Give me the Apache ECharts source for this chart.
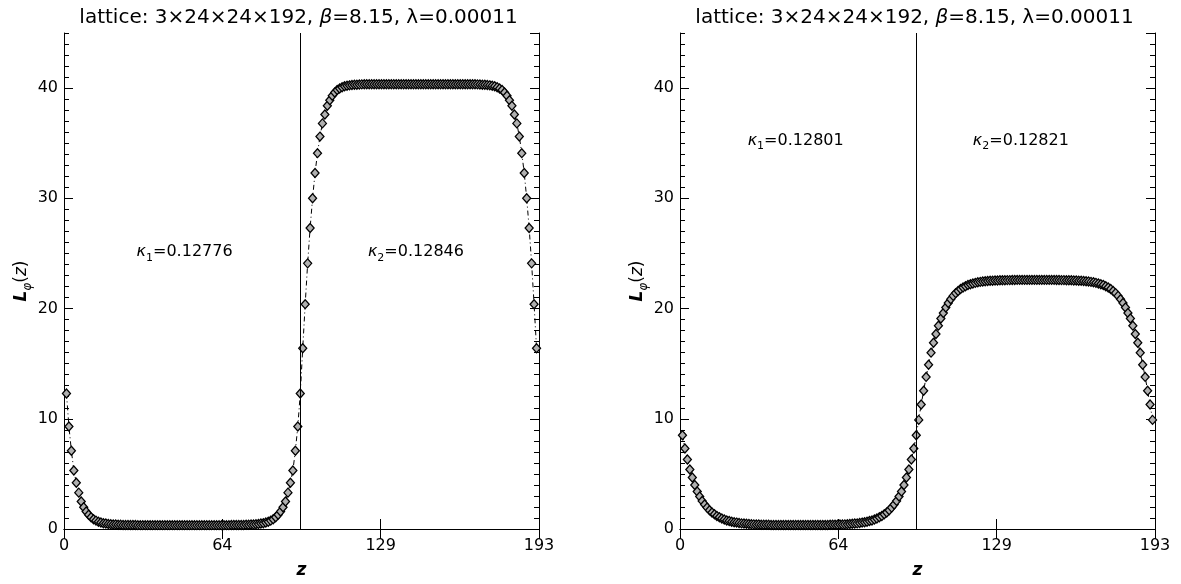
<!DOCTYPE html>
<html>
<head>
<meta charset="utf-8">
<script src="https://cdn.jsdelivr.net/npm/echarts@6/dist/echarts.min.js"></script>
<style>
  html, body { margin: 0; padding: 0; background: #fff; }
  #myChart { width: 1181px; height: 584px; }
</style>
</head>
<body>
<div id="myChart"></div>
<script type="text/javascript">

  // L_phi(z), one value per site z = 1..192
  // left panel, kappa1 half (z = 1..96)
  var leftK1 = [
    12.3, 9.3, 7.1, 5.3, 4.2, 3.3, 2.5, 1.98, 1.59, 1.29,
    1.07, 0.89, 0.76, 0.66, 0.59, 0.53, 0.49, 0.45, 0.43, 0.41,
    0.40, 0.39, 0.38, 0.37, 0.37, 0.36, 0.36, 0.36, 0.36, 0.35,
    0.35, 0.35, 0.35, 0.35, 0.35, 0.35, 0.35, 0.35, 0.35, 0.35,
    0.35, 0.35, 0.35, 0.35, 0.35, 0.35, 0.35, 0.35,
    0.35, 0.35, 0.35, 0.35, 0.35, 0.35, 0.35, 0.35,
    0.35, 0.35, 0.35, 0.35, 0.35, 0.35, 0.35, 0.35, 0.35, 0.35,
    0.35, 0.36, 0.36, 0.36, 0.36, 0.37, 0.37, 0.38, 0.39, 0.40,
    0.41, 0.43, 0.45, 0.49, 0.53, 0.59, 0.66, 0.76, 0.89, 1.07,
    1.29, 1.59, 1.98, 2.5, 3.3, 4.2, 5.3, 7.1, 9.3, 12.3
  ];
  // left panel, kappa2 half (z = 97..192)
  var leftK2 = [
    16.4, 20.4, 24.1, 27.3, 30.0, 32.3, 34.1, 35.6, 36.8, 37.6,
    38.4, 38.9, 39.3, 39.6, 39.82, 39.97, 40.08, 40.16, 40.21, 40.25,
    40.28, 40.30, 40.31, 40.33, 40.34, 40.35, 40.35, 40.35, 40.35, 40.35,
    40.35, 40.35, 40.35, 40.35, 40.35, 40.35, 40.35, 40.35, 40.35, 40.35,
    40.35, 40.35, 40.35, 40.35, 40.35, 40.35, 40.35, 40.35,
    40.35, 40.35, 40.35, 40.35, 40.35, 40.35, 40.35, 40.35,
    40.35, 40.35, 40.35, 40.35, 40.35, 40.35, 40.35, 40.35, 40.35, 40.35,
    40.35, 40.35, 40.35, 40.35, 40.35, 40.34, 40.33, 40.31, 40.30, 40.28,
    40.25, 40.21, 40.16, 40.08, 39.97, 39.82, 39.6, 39.3, 38.9, 38.4,
    37.6, 36.8, 35.6, 34.1, 32.3, 30.0, 27.3, 24.1, 20.4, 16.4
  ];
  // right panel, kappa1 half
  var rightK1 = [
    8.5, 7.3, 6.3, 5.4, 4.67, 4.0, 3.4, 2.95, 2.55, 2.22,
    1.94, 1.70, 1.50, 1.33, 1.18, 1.06, 0.95, 0.86, 0.78, 0.72,
    0.66, 0.62, 0.58, 0.54, 0.51, 0.49, 0.47, 0.45, 0.44, 0.42,
    0.41, 0.40, 0.39, 0.39, 0.38, 0.38, 0.37, 0.37, 0.37, 0.36,
    0.36, 0.36, 0.36, 0.36, 0.36, 0.36, 0.36, 0.36,
    0.36, 0.36, 0.36, 0.36, 0.36, 0.36, 0.36, 0.36,
    0.36, 0.37, 0.37, 0.37, 0.38, 0.38, 0.39, 0.39, 0.40, 0.41,
    0.42, 0.44, 0.45, 0.47, 0.49, 0.51, 0.54, 0.58, 0.62, 0.66,
    0.72, 0.78, 0.86, 0.95, 1.06, 1.18, 1.33, 1.50, 1.70, 1.94,
    2.22, 2.55, 2.95, 3.4, 4.0, 4.67, 5.4, 6.3, 7.3, 8.5
  ];
  // right panel, kappa2 half
  var rightK2 = [
    9.9, 11.3, 12.55, 13.8, 14.9, 16.0, 16.9, 17.7, 18.45, 19.1,
    19.6, 20.1, 20.5, 20.85, 21.15, 21.4, 21.6, 21.77, 21.91, 22.03,
    22.13, 22.21, 22.28, 22.33, 22.38, 22.42, 22.45, 22.48, 22.5, 22.52,
    22.53, 22.54, 22.55, 22.56, 22.57, 22.57, 22.58, 22.58, 22.59, 22.59,
    22.6, 22.6, 22.6, 22.6, 22.6, 22.6, 22.6, 22.6,
    22.6, 22.6, 22.6, 22.6, 22.6, 22.6, 22.6, 22.6,
    22.59, 22.59, 22.58, 22.58, 22.57, 22.57, 22.56, 22.55, 22.54, 22.53,
    22.52, 22.5, 22.48, 22.45, 22.42, 22.38, 22.33, 22.28, 22.21, 22.13,
    22.03, 21.91, 21.77, 21.6, 21.4, 21.15, 20.85, 20.5, 20.1, 19.6,
    19.1, 18.45, 17.7, 16.9, 16.0, 14.9, 13.8, 12.55, 11.3, 9.9
  ];

  var kappaLeft = ['0.12776', '0.12846'];
  var kappaRight = ['0.12801', '0.12821'];
  // where the kappa labels sit, in data units [z, L]
  var kappaPosLeft = [[49, 25.1], [143, 25.1]];
  var kappaPosRight = [[47, 35.2], [138.5, 35.2]];
  var zStart = 1;        // first lattice site
  var zWall = 96;        // kappa1 / kappa2 boundary
  var zMax = 193;
  var yMax = 45;

  var fontFam = 'DejaVu Sans';
  var chartDom = document.getElementById('myChart');
  var myChart = echarts.init(chartDom);

  var grids = [
    { left: 64, top: 33, width: 475, height: 508 },
    { left: 680, top: 33, width: 475, height: 508 }
  ];

  var panels = [
    { k1: leftK1, k2: leftK2, kappa: kappaLeft, pos: kappaPosLeft },
    { k1: rightK1, k2: rightK2, kappa: kappaRight, pos: kappaPosRight }
  ];

  var axisLine = { show: true, lineStyle: { color: '#000', width: 1 } };
  var subRich = {
    i: { fontFamily: fontFam, fontSize: 17, fontStyle: 'italic', fontWeight: 'bold', color: '#000', lineHeight: 24 },
    n: { fontFamily: fontFam, fontSize: 17, color: '#000', lineHeight: 24 },
    z: { fontFamily: fontFam, fontSize: 17, fontStyle: 'italic', color: '#000', lineHeight: 24 },
    si: { fontFamily: fontFam, fontSize: 12, fontStyle: 'italic', color: '#000', lineHeight: 12, verticalAlign: 'bottom' }
  };

  function pairs(a, b) {
    var out = [];
    a.concat(b).forEach(function (v, i) {
      out.push([zStart + i, v]);
    });
    return out;
  }

  var xAxes = [], yAxes = [], series = [], titles = [];

  panels.forEach(function (p, g) {
    var gr = grids[g];
    titles.push({
      text: '{n|lattice: 3×24×24×192, }{i|β}{n|=8.15, λ=0.00011}',
      left: gr.left + gr.width / 2 - 3,
      textAlign: 'center',
      top: 8,
      padding: 0,
      textStyle: {
        fontWeight: 'normal',
        rich: {
          n: { fontFamily: fontFam, fontSize: 20, fontWeight: 'normal', color: '#000' },
          i: { fontFamily: fontFam, fontSize: 20, fontWeight: 'normal', fontStyle: 'italic', color: '#000' }
        }
      }
    });

    // bottom and top x axes
    xAxes.push({
      gridIndex: g, type: 'value', position: 'bottom',
      min: 0, max: zMax, interval: zMax / 3,
      axisLine: axisLine,
      axisTick: { show: true, inside: true, length: 10, lineStyle: { color: '#000' } },
      axisLabel: {
        color: '#000', fontFamily: fontFam, fontSize: 16, margin: 9,
        formatter: function (v) { return Math.round(v); }
      },
      splitLine: { show: false },
      name: 'z', nameLocation: 'middle', nameGap: 33,
      nameTextStyle: { fontFamily: fontFam, fontSize: 17, fontStyle: 'italic', fontWeight: 'bold', color: '#000' }
    });
    xAxes.push({
      gridIndex: g, type: 'value', position: 'top',
      min: 0, max: zMax, interval: zMax / 3,
      axisLine: axisLine,
      axisTick: { show: true, inside: true, length: 10, lineStyle: { color: '#000' } },
      axisLabel: { show: false },
      splitLine: { show: false }
    });

    // left major / minor, right major / minor
    ['left', 'right'].forEach(function (side) {
      yAxes.push({
        gridIndex: g, type: 'value', position: side,
        min: 0, max: yMax, interval: 10,
        axisLine: axisLine,
        axisTick: { show: true, inside: true, length: 9, lineStyle: { color: '#000' } },
        axisLabel: side === 'left' ? {
          color: '#000', fontFamily: fontFam, fontSize: 16, margin: 6, showMaxLabel: false
        } : { show: false },
        splitLine: { show: false },
        name: side === 'left' ? '{i|L}{si|φ}{n|(}{z|z}{n|)}' : '',
        nameLocation: 'middle', nameGap: 25, nameRotate: 90,
        nameTextStyle: { rich: subRich }
      });
      yAxes.push({
        gridIndex: g, type: 'value', position: side,
        min: 0, max: yMax, interval: 1,
        axisLine: { show: false },
        axisTick: { show: true, inside: true, length: 5, lineStyle: { color: '#000' } },
        axisLabel: { show: false },
        splitLine: { show: false }
      });
    });

    series.push({
      type: 'line',
      xAxisIndex: g * 2,
      yAxisIndex: g * 4,
      data: pairs(p.k1, p.k2),
      symbol: 'diamond',
      symbolSize: [8, 9],
      showAllSymbol: true,
      lineStyle: { color: '#000', width: 1, type: [5, 3, 1, 3] },
      itemStyle: { color: '#b0b0b0', borderColor: '#000', borderWidth: 1.3 },
      markLine: {
        silent: true,
        symbol: 'none',
        label: { show: false },
        lineStyle: { color: '#000', width: 1, type: 'solid' },
        data: [{ xAxis: zWall }]
      },
      markPoint: {
        silent: true,
        symbol: 'circle',
        symbolSize: 1,
        itemStyle: { color: 'transparent' },
        label: {
          show: true,
          position: 'inside',
          rich: {
            i: { fontFamily: fontFam, fontSize: 16, fontStyle: 'italic', color: '#000', lineHeight: 22 },
            n: { fontFamily: fontFam, fontSize: 16, color: '#000', lineHeight: 22 },
            s: { fontFamily: fontFam, fontSize: 11, color: '#000', lineHeight: 12, verticalAlign: 'bottom' }
          }
        },
        data: p.kappa.map(function (k, i) {
          return {
            coord: p.pos[i],
            label: { formatter: '{i|κ}{s|' + (i + 1) + '}{n|=' + k + '}' }
          };
        })
      }
    });
  });

  var option = {
    backgroundColor: '#fff',
    animation: false,
    title: titles,
    grid: grids,
    xAxis: xAxes,
    yAxis: yAxes,
    series: series
  };

  option && myChart.setOption(option);
</script>
</body>
</html>
